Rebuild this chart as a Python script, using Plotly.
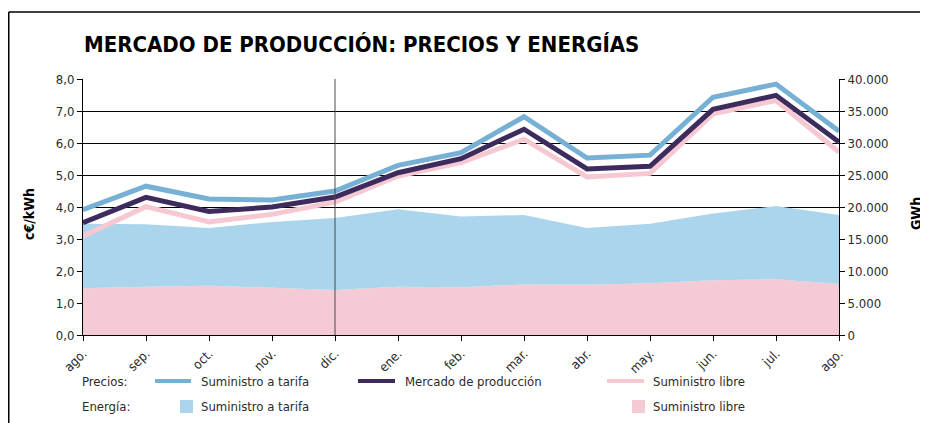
import plotly.graph_objects as go

months = ["ago.", "sep.", "oct.", "nov.", "dic.", "ene.", "feb.", "mar.", "abr.", "may.", "jun.", "jul.", "ago."]
precio_tarifa = [3.92, 4.65, 4.25, 4.22, 4.50, 5.30, 5.70, 6.82, 5.53, 5.62, 7.43, 7.84, 6.37]
precio_mercado = [3.51, 4.30, 3.86, 4.00, 4.31, 5.07, 5.51, 6.43, 5.19, 5.27, 7.05, 7.49, 6.03]
precio_libre = [3.09, 4.01, 3.53, 3.77, 4.15, 4.97, 5.39, 6.12, 4.94, 5.05, 6.91, 7.33, 5.72]
energia_libre = [7300, 7550, 7700, 7400, 7050, 7550, 7450, 7900, 7850, 8100, 8550, 8700, 7950]
energia_tarifa = [10100, 9750, 9000, 10250, 11250, 12100, 11050, 10850, 8850, 9300, 10450, 11450, 10800]

xs = list(range(len(months)))

C_BLUE_LINE = "#77B0D5"
C_DARK = "#3D2B5E"
C_PINK_LINE = "#F5C8D2"
C_BLUE_AREA = "#AAD5ED"
C_PINK_AREA = "#F4CBD5"
FONT = "DejaVu Sans Condensed, Liberation Sans Narrow, Roboto, sans-serif"
TXT = "#2b2b2b"
FS = 13

fig = go.Figure()
# Energy areas (primary y, drawn below)
fig.add_trace(go.Scatter(x=xs, y=energia_libre, stackgroup="e", mode="none",
                         fillcolor=C_PINK_AREA, name="Suministro libre", showlegend=False))
fig.add_trace(go.Scatter(x=xs, y=energia_tarifa, stackgroup="e", mode="none",
                         fillcolor=C_BLUE_AREA, name="Suministro a tarifa", showlegend=False))
# Price lines (overlaying axis, drawn on top)
fig.add_trace(go.Scatter(x=xs, y=precio_libre, yaxis="y2", mode="lines",
                         line=dict(color=C_PINK_LINE, width=5), showlegend=False))
fig.add_trace(go.Scatter(x=xs, y=precio_mercado, yaxis="y2", mode="lines",
                         line=dict(color=C_DARK, width=5), showlegend=False))
fig.add_trace(go.Scatter(x=xs, y=precio_tarifa, yaxis="y2", mode="lines",
                         line=dict(color=C_BLUE_LINE, width=5), showlegend=False))

# page has an 8px body margin: figure is 920x415 placed at (8, 8)
OFF = 8
W, H = 920, 415
L, R, T, B = 75, 89, 71, 88
PW, PH = W - L - R, H - T - B


def px(xp):
    return (xp - OFF - L) / PW


def py(yp):
    return (H - B - (yp - OFF)) / PH


fig.update_layout(
    width=W, height=H,
    margin=dict(l=L, r=R, t=T, b=B),
    paper_bgcolor="white", plot_bgcolor="white",
    separators=",.",
    font=dict(family=FONT, size=FS, color=TXT),
    showlegend=False,
    xaxis=dict(tickvals=xs, ticktext=months, range=[0, len(months) - 1], tickangle=-45,
               showgrid=False, showline=True, linecolor="black", linewidth=1,
               ticks="outside", ticklen=5, tickcolor="black", zeroline=False,
               tickfont=dict(family=FONT, size=FS, color=TXT)),
    yaxis=dict(range=[0, 40000], dtick=5000, tickformat=",d", side="right",
               showgrid=True, gridcolor="black", gridwidth=1,
               showline=True, linecolor="black", linewidth=1,
               ticks="outside", ticklen=5, tickcolor="black", zeroline=False,
               tickfont=dict(family=FONT, size=FS, color=TXT)),
    yaxis2=dict(range=[0, 8], dtick=1, tickformat=".1f", side="left", overlaying="y",
                showgrid=False, showline=True, linecolor="black", linewidth=1,
                ticks="outside", ticklen=5, tickcolor="black", zeroline=False,
                tickfont=dict(family=FONT, size=FS, color=TXT)),
)

shapes = []
annotations = []
# vertical separator at dic.
shapes.append(dict(type="line", xref="x", yref="paper", x0=4, x1=4, y0=0, y1=1,
                   line=dict(color="#4a4a4a", width=1), layer="above"))
# frame (top & left)
shapes.append(dict(type="line", xref="paper", yref="paper", x0=px(8.75), x1=px(940), y0=py(12), y1=py(12),
                   line=dict(color="black", width=1.5)))
shapes.append(dict(type="line", xref="paper", yref="paper", x0=px(8.75), x1=px(8.75), y0=py(12), y1=py(440),
                   line=dict(color="black", width=1.5)))

# title
annotations.append(dict(text="<b>MERCADO DE PRODUCCIÓN: PRECIOS Y ENERGÍAS</b>", xref="paper", yref="paper",
                        x=px(82), y=py(44), xanchor="left", yanchor="middle", showarrow=False,
                        font=dict(family=FONT, size=22, color="black")))
# axis titles
annotations.append(dict(text="<b>c€/kWh</b>", xref="paper", yref="paper", x=px(29), y=py(214),
                        xanchor="center", yanchor="middle", showarrow=False, textangle=-90,
                        font=dict(family=FONT, size=14, color="black")))
annotations.append(dict(text="<b>GWh</b>", xref="paper", yref="paper", x=px(916), y=py(214),
                        xanchor="center", yanchor="middle", showarrow=False, textangle=-90,
                        font=dict(family=FONT, size=14, color="black")))

# legend
y1, y2 = 381, 406
annotations.append(dict(text="Precios:", xref="paper", yref="paper", x=px(80), y=py(y1),
                        xanchor="left", yanchor="middle", showarrow=False))
annotations.append(dict(text="Energía:", xref="paper", yref="paper", x=px(80), y=py(y2),
                        xanchor="left", yanchor="middle", showarrow=False))
line_items = [(155, 191, 199, C_BLUE_LINE, "Suministro a tarifa"),
              (358, 395, 403, C_DARK, "Mercado de producción"),
              (607, 644, 651, C_PINK_LINE, "Suministro libre")]
for xa, xb, xt, col, lab in line_items:
    shapes.append(dict(type="line", xref="paper", yref="paper", x0=px(xa), x1=px(xb), y0=py(y1), y1=py(y1),
                       line=dict(color=col, width=4)))
    annotations.append(dict(text=lab, xref="paper", yref="paper", x=px(xt), y=py(y1),
                            xanchor="left", yanchor="middle", showarrow=False))
box_items = [(180, 199, C_BLUE_AREA, "Suministro a tarifa"),
             (632, 651, C_PINK_AREA, "Suministro libre")]
for xa, xt, col, lab in box_items:
    shapes.append(dict(type="rect", xref="paper", yref="paper", x0=px(xa), x1=px(xa + 13),
                       y0=py(y2 + 7), y1=py(y2 - 6), fillcolor=col, line=dict(width=0)))
    annotations.append(dict(text=lab, xref="paper", yref="paper", x=px(xt), y=py(y2),
                            xanchor="left", yanchor="middle", showarrow=False))

fig.update_layout(shapes=shapes, annotations=annotations)
fig.write_html("out.html")
